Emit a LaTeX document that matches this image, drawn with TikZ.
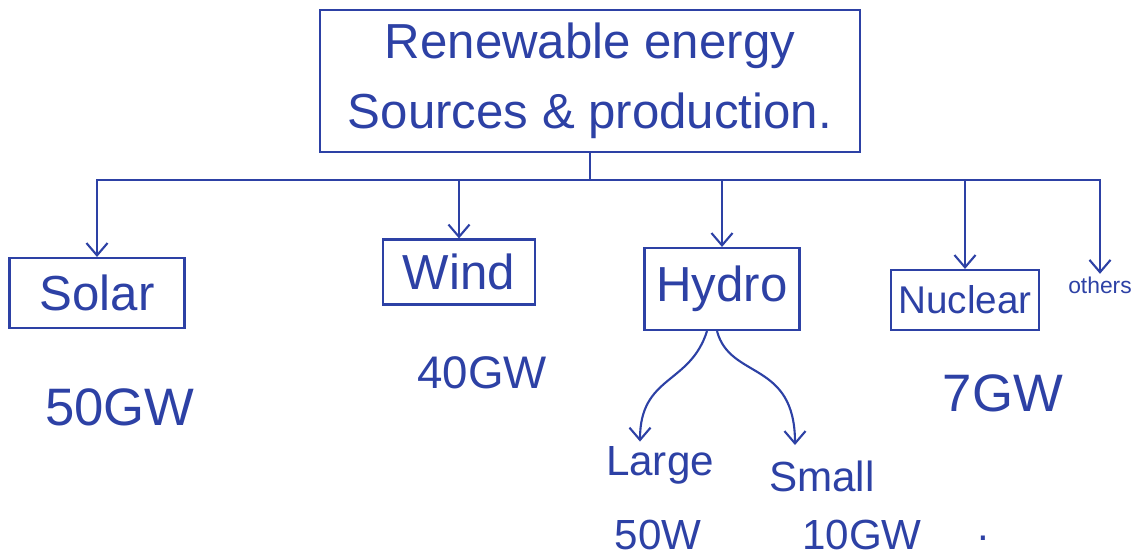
\documentclass[tikz,border=0pt]{standalone}
\usepackage{fontspec}
\setmainfont{Liberation Sans}
\usetikzlibrary{positioning,arrows.meta}
\definecolor{ink}{RGB}{45,65,165}
\begin{document}
\begin{tikzpicture}[x=0.02cm,y=-0.02cm,>={Straight Barb[length=7pt,width=12pt]},color=ink,line width=1.2pt,
		srcbox/.style={draw,rectangle,inner sep=4pt,font=\fontsize{28}{32}\selectfont},
		val/.style={inner sep=2pt,font=\fontsize{30}{34}\selectfont},
		sub/.style={inner sep=2pt,font=\fontsize{24}{28}\selectfont}]
				\useasboundingbox (0,0) rectangle (1133,559);
				\node[srcbox,align=center,minimum width=10.8cm,minimum height=2.84cm,font=\fontsize{28}{40}\selectfont] (root) at (590,81) {Renewable energy\\Sources \& production.};
				\node[srcbox,minimum width=3.5cm,minimum height=1.4cm] (solar) at (97,293) {Solar};
				\node[srcbox,minimum width=3.04cm,minimum height=1.3cm] (wind) at (459,272) {Wind};
				\node[srcbox,minimum width=3.1cm,minimum height=1.64cm] (hydro) at (722,289) {Hydro};
				\node[srcbox,minimum width=2.9cm,minimum height=1.2cm,font=\fontsize{22}{26}\selectfont] (nuclear) at (965,300) {Nuclear};
				\node[inner sep=1pt,font=\fontsize{13}{15}\selectfont] (others) at (1100,285) {others};
				\coordinate (bus) at (590,180);
				\draw (root.south) -- (bus);
				\foreach \n in {solar,wind,hydro,nuclear,others} \draw[->] (bus) -| (\n.north);
				\node[val] (solarGW) at (120,407) {50GW};
				\node[val,font=\fontsize{26}{30}\selectfont] (windGW) at (482,373) {40GW};
				\node[val] (nuclearGW) at (1003,393) {7GW};
				\node[sub] (large) at (660,465) {Large};
				\node[sub] (small) at (822,476) {Small};
				\node[sub] (largeW) at (658,535) {50W};
				\node[sub] (smallGW) at (862,535) {10GW};
				\node[sub] (dot) at (983,538) {.};
				\draw[->] ([xshift=-0.3cm]hydro.south) .. controls (690,385) and (640,375) .. (large.north -| 640,0);
				\draw[->] ([xshift=-0.1cm]hydro.south) .. controls (730,380) and (795,360) .. (795,445);
			\end{tikzpicture}
\end{document}
